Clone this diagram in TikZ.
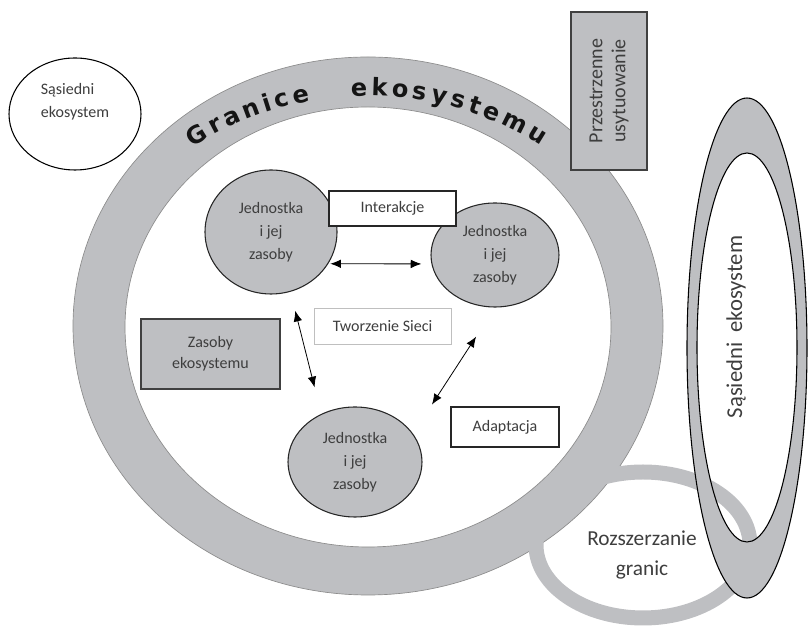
\documentclass[tikz,border=0pt]{standalone}
\usepackage{fontspec}
\setmainfont{Carlito}
\newfontfamily\ringfont{DejaVu Sans}
\usetikzlibrary{arrows.meta,shapes.geometric,decorations.text}
\newlength\px
\setlength\px{0.75pt}
\definecolor{ringgray}{RGB}{190,191,194}
\definecolor{textgray}{RGB}{62,62,62}

\begin{document}
\begin{tikzpicture}[
  x=\px, y=\px,
  small/.style={font=\fontsize{12}{17.25}\selectfont, text=textgray},
  large/.style={font=\fontsize{16}{23}\selectfont, text=textgray},
  member/.style={
    ellipse, draw=black!85, fill=ringgray, line width=0.8pt,
    small, align=center, inner sep=0pt,
  },
  tag/.style={draw=black!85, fill=white, line width=0.8pt, small, align=center, inner sep=0pt},
  resource/.style={draw=black!75, fill=ringgray, line width=0.8pt, align=center, inner sep=0pt},
  band/.style={fill=ringgray, even odd rule},
  link/.style={{Latex[length=8pt,width=6.5pt]}-{Latex[length=8pt,width=6.5pt]}, line width=0.6pt},
  arc text/.style={
    decorate, decoration={text along path, text align=fit to path,
      text color=black!92,
      text={|\ringfont\bfseries\fontsize{18}{18}\selectfont|#1}},
  },
]
\useasboundingbox (0,0) rectangle (808,628);

% ---- Ecosystem boundary: the wide grey ring ------------------------------
\path[band, draw=black!45, line width=0.5pt]
  (368,302) ellipse[x radius=295\px, y radius=269\px]
  (368,301) ellipse[x radius=243\px, y radius=220\px];
\path[arc text=Granice] (368,302) ++(129:278 and 230)
  arc[start angle=129, end angle=102, x radius=278\px, y radius=230\px];
\path[arc text=ekosystemu] (368,302) ++(93.5:278 and 230)
  arc[start angle=93.5, end angle=51.5, x radius=278\px, y radius=230\px];

% ---- Extended boundary and the neighbour on the right --------------------
\draw[ringgray, line width=15\px] (643,83) ellipse[x radius=107\px, y radius=73\px];
\path[band, draw=black, line width=0.8pt]
  (747,280) ellipse[x radius=60\px, y radius=250\px]
  (747,280.5) ellipse[x radius=50\px, y radius=194.5\px];
\node[large, rotate=90, font=\fontsize{17}{23}\selectfont] (east) at (736,301) {Sąsiedni\hspace{0.45em}ekosystem};
\node[large, align=center] (grow) at (642,73) {Rozszerzanie\\granic};

% ---- Neighbour on the left and spatial placement -------------------------
\node[ellipse, draw=black, fill=white, line width=0.8pt, inner sep=0pt,
  minimum width=132\px, minimum height=112\px] (west) at (75,514) {};
\node[small, align=left] (west text) at ([yshift=12\px]west.center) {Sąsiedni\\ekosystem};
\node[resource, large, rotate=90, font=\fontsize{15}{17.25}\selectfont,
  minimum width=158\px, minimum height=76\px] (place) at (609,537) {Przestrzenne\\usytuowanie};

% ---- Units and their resources -------------------------------------------
\node[member, minimum width=132\px, minimum height=124\px] (unit a) at (271,396) {Jednostka\\i jej\\zasoby};
\node[member, minimum width=128\px, minimum height=104\px] (unit b) at (495,373) {Jednostka\\i jej\\zasoby};
\node[member, minimum width=134\px, minimum height=110\px] (unit c) at (355,166) {Jednostka\\i jej\\zasoby};

% ---- Labels inside the boundary ------------------------------------------
\node[tag, minimum width=127\px, minimum height=35\px] (interact) at (392.5,419.5) {Interakcje};
\node[tag, draw=black!25, line width=0.6pt, minimum width=137\px, minimum height=36\px]
  (network) at (382.5,302) {Tworzenie Sieci};
\node[resource, small, font=\fontsize{12}{15.75}\selectfont,
  minimum width=139\px, minimum height=70\px] (assets) at (210.5,274) {Zasoby\\ekosystemu};
\node[tag, minimum width=108\px, minimum height=40\px] (adapt) at (505,201) {Adaptacja};

% ---- Links between the units ---------------------------------------------
\draw[link, shorten <=2\px, shorten >=10\px] (unit a.-29) -- (unit b.188);
\draw[link, shorten <=19.6\px, shorten >=27.4\px] (unit a.-72) -- (unit c.125);
\draw[link, shorten <=34.7\px, shorten >=34.7\px] (unit b.south) -- (unit c.26);

\end{tikzpicture}
\end{document}
